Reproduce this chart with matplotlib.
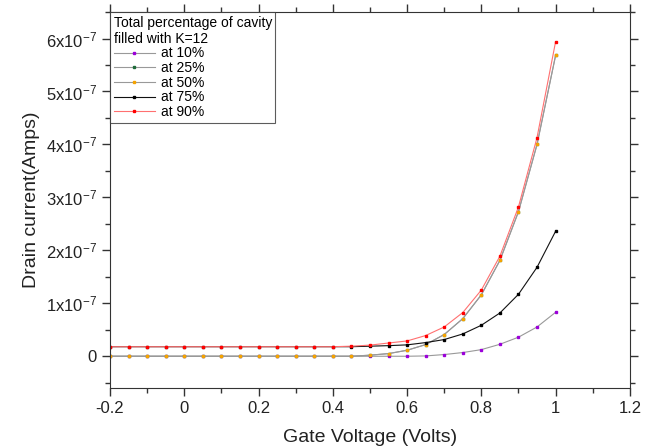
import numpy as np
import matplotlib.pyplot as plt
from matplotlib.ticker import MultipleLocator, FuncFormatter

plt.rcParams['font.family'] = ['Liberation Sans', 'DejaVu Sans']

# gate voltage points (V)
vg = [-0.2, -0.15, -0.1, -0.05, 0.0, 0.05, 0.1, 0.15, 0.2, 0.25, 0.3, 0.35,
      0.4, 0.45, 0.5, 0.55, 0.6, 0.65, 0.7, 0.75, 0.8, 0.85, 0.9, 0.95, 1.0]

# drain current in units of 1e-7 A
base0 = [0.0] * 13
base_red = [0.18] * 13
id_10 = base0 + [0.0, 0.0, 0.0, 0.0, 0.006, 0.032, 0.07, 0.125, 0.226, 0.36, 0.553, 0.83]
id_25 = base0 + [0.0, 0.02, 0.05, 0.113, 0.22, 0.41, 0.71, 1.16, 1.81, 2.73, 4.0, 5.68]
id_50 = base0 + [0.0, 0.02, 0.05, 0.113, 0.22, 0.41, 0.71, 1.16, 1.81, 2.73, 4.0, 5.68]
id_75 = base_red + [0.18, 0.19, 0.20, 0.215, 0.258, 0.315, 0.421, 0.585, 0.817, 1.17, 1.68, 2.36]
id_90 = base_red + [0.19, 0.21, 0.25, 0.289, 0.391, 0.553, 0.825, 1.25, 1.89, 2.82, 4.13, 5.94]

series = [
    ('at 10%', id_10, '#999999', '#9b00d9'),
    ('at 25%', id_25, '#999999', '#1f6b3a'),
    ('at 50%', id_50, '#999999', '#f5a300'),
    ('at 75%', id_75, '#111111', '#000000'),
    ('at 90%', id_90, '#ff7070', '#ff0000'),
]

fig = plt.figure(figsize=(6.63, 4.46), dpi=100)
ax = fig.add_axes([0.166, 0.130, 0.784, 0.843])

for label, vals, lc, mc in series:
    ax.plot(vg, np.array(vals) * 1e-7, color=lc, lw=0.8, marker='s', ms=2.0,
            mfc=mc, mec=mc, label=label)

ax.set_xlim(-0.2, 1.2)
ax.set_ylim(-0.6e-7, 6.5e-7)
ax.xaxis.set_major_locator(MultipleLocator(0.2))
ax.xaxis.set_minor_locator(MultipleLocator(0.1))
ax.yaxis.set_major_locator(MultipleLocator(1e-7))
ax.yaxis.set_minor_locator(MultipleLocator(0.5e-7))


def yfmt(v, pos):
    n = int(round(v / 1e-7))
    if n == 0:
        return '0'
    return r'$\mathregular{%dx10^{-7}}$' % n


def xfmt(v, pos):
    if abs(v) < 1e-9:
        return '0'
    if abs(v - round(v)) < 1e-9:
        return '%d' % round(v)
    return '%.1f' % v


ax.yaxis.set_major_formatter(FuncFormatter(yfmt))
ax.xaxis.set_major_formatter(FuncFormatter(xfmt))
ax.tick_params(which='both', direction='out', top=True, right=True,
               labelsize=12, colors='#333333', labelcolor='#222222')
ax.tick_params(which='major', length=6, width=1)
ax.tick_params(which='minor', length=3.5, width=1)
for s in ax.spines.values():
    s.set_color('#333333')

ax.set_xlabel('Gate Voltage (Volts)', fontsize=14, color='#222222', labelpad=9)
ax.set_ylabel('Drain current(Amps)', fontsize=14, color='#222222', labelpad=4)

leg = ax.legend(loc='upper left', title='Total percentage of cavity\nfilled with K=12',
                fontsize=10, title_fontsize=10, frameon=True, fancybox=False,
                edgecolor='#333333', borderaxespad=0, handlelength=3.0,
                handletextpad=0.4, labelspacing=0.05, borderpad=0.25)
leg._legend_box.align = 'left'
leg.get_frame().set_linewidth(0.8)

fig.savefig('out.png', dpi=100)
